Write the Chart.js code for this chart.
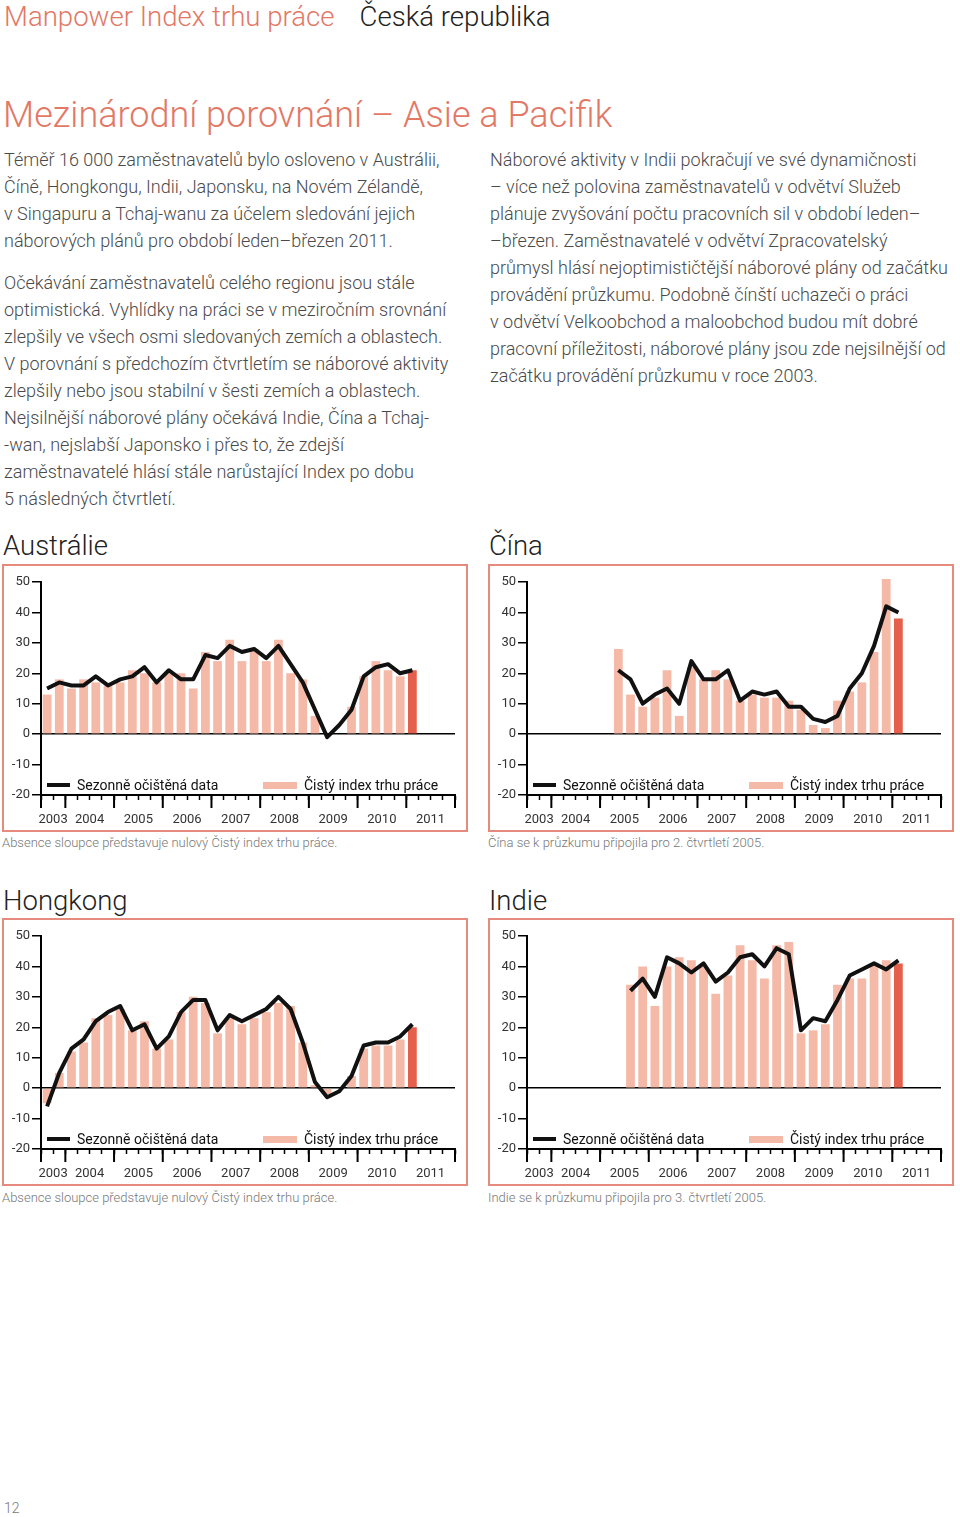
<!DOCTYPE html>
<html lang="cs">
<head>
<meta charset="utf-8">
<title>Mezinárodní porovnání – Asie a Pacifik</title>
<script src="https://cdn.jsdelivr.net/npm/chart.js@4.4.1/dist/chart.umd.min.js"></script>
<style>
  body {
    margin: 0;
    width: 960px;
    height: 1517px;
    position: relative;
    background: #fff;
    font-family: Roboto, 'Liberation Sans', sans-serif;
    font-weight: 300;
    color: #4a4a4a;
  }
  .abs { position: absolute; white-space: nowrap; }
  .head { left: 4px; top: 0; font-size: 27.6px; line-height: 33px; color: #e27866; }
  .head span { color: #222; margin-left: 25px; }
  .title { left: 3px; top: 93px; font-size: 36px; line-height: 44px; color: #e27866; }
  .para { font-size: 18px; line-height: 27px; }
  .ctitle { font-size: 27.5px; line-height: 34px; color: #222; }
  .box {
    position: absolute;
    width: 462px;
    height: 264px;
    border: 2px solid #e58a7d;
  }
  .box canvas { position: absolute; left: 0; top: 0; }
  .note { font-size: 13px; line-height: 16px; color: #777; }
  .leg { position: absolute; top: 209px; font-size: 14px; line-height: 20px; color: #111; font-weight: 400; white-space: nowrap; }
  .leg i { position: absolute; display: block; }
  .leg .ln { left: 43px; top: 8px; width: 23px; height: 4px; background: #111; }
  .leg .sw { left: 259px; top: 7px; width: 34px; height: 7px; background: #f5b9a8; }
  .leg .t1 { position: absolute; left: 73px; }
  .leg .t2 { position: absolute; left: 300px; }
</style>
</head>
<body>

<div class="abs head">Manpower Index trhu práce<span>Česká republika</span></div>
<div class="abs title">Mezinárodní porovnání – Asie a Pacifik</div>

<div class="abs para" style="left:4px;top:146px">
Téměř 16 000 zaměstnavatelů bylo osloveno v Austrálii,<br>
Číně, Hongkongu, Indii, Japonsku, na Novém Zélandě,<br>
v Singapuru a Tchaj-wanu za účelem sledování jejich<br>
náborových plánů pro období leden–březen 2011.
</div>
<div class="abs para" style="left:4px;top:269px">
Očekávání zaměstnavatelů celého regionu jsou stále<br>
optimistická. Vyhlídky na práci se v meziročním srovnání<br>
zlepšily ve všech osmi sledovaných zemích a oblastech.<br>
V porovnání s předchozím čtvrtletím se náborové aktivity<br>
zlepšily nebo jsou stabilní v šesti zemích a oblastech.<br>
Nejsilnější náborové plány očekává Indie, Čína a Tchaj-<br>
-wan, nejslabší Japonsko i přes to, že zdejší<br>
zaměstnavatelé hlásí stále narůstající Index po dobu<br>
5 následných čtvrtletí.
</div>
<div class="abs para" style="left:490px;top:146px">
Náborové aktivity v Indii pokračují ve své dynamičnosti<br>
– více než polovina zaměstnavatelů v odvětví Služeb<br>
plánuje zvyšování počtu pracovních sil v období leden–<br>
–březen. Zaměstnavatelé v odvětví Zpracovatelský<br>
průmysl hlásí nejoptimističtější náborové plány od začátku<br>
provádění průzkumu. Podobně čínští uchazeči o práci<br>
v odvětví Velkoobchod a maloobchod budou mít dobré<br>
pracovní příležitosti, náborové plány jsou zde nejsilnější od<br>
začátku provádění průzkumu v roce 2003.
</div>

<div class="abs ctitle" style="left:3px;top:529px">Austrálie</div>
<div class="box" style="left:2px;top:564px"><canvas id="aus" width="462" height="264"></canvas></div>
<div class="abs note" style="left:2px;top:835px">Absence sloupce představuje nulový Čistý index trhu práce.</div>

<div class="abs ctitle" style="left:489px;top:529px">Čína</div>
<div class="box" style="left:488px;top:564px"><canvas id="chn" width="462" height="264"></canvas></div>
<div class="abs note" style="left:488px;top:835px">Čína se k průzkumu připojila pro 2. čtvrtletí 2005.</div>

<div class="abs ctitle" style="left:3px;top:884px">Hongkong</div>
<div class="box" style="left:2px;top:918px"><canvas id="hk" width="462" height="264"></canvas></div>
<div class="abs note" style="left:2px;top:1190px">Absence sloupce představuje nulový Čistý index trhu práce.</div>

<div class="abs ctitle" style="left:489px;top:884px">Indie</div>
<div class="box" style="left:488px;top:918px"><canvas id="ind" width="462" height="264"></canvas></div>
<div class="abs note" style="left:488px;top:1190px">Indie se k průzkumu připojila pro 3. čtvrtletí 2005.</div>

<div class="abs note" style="left:4px;top:1500px;font-size:14px">12</div>

<script>
// survey runs 2003 Q3 .. 2011 Q4 on the axis, data up to 2011 Q1
const years = ['2003', '2004', '2005', '2006', '2007', '2008', '2009', '2010', '2011'];
const quarterNames = ['Q1', 'Q2', 'Q3', 'Q4'];

const lineLabel = 'Sezonně očištěná data';
const barLabel = 'Čistý index trhu práce';

const ausBars = [13, 18, 15, 18, 17, 16, 17, 21, 20, 17, 20, 20, 15, 27, 24, 31, 24, 28, 24, 31, 20, 18, 6, 0, 0, 9, 19, 24, 21, 19, 21, null, null, null];
const ausLine = [15, 17, 16, 16, 19, 16, 18, 19, 22, 17, 21, 18, 18, 26, 25, 29, 27, 28, 25, 29, 23, 17, 8, -1, 3, 8, 19, 22, 23, 20, 21, null, null, null];

const chnBars = [null, null, null, null, null, null, null, 28, 13, 9, 12, 21, 6, 22, 18, 21, 18, 11, 13, 12, 12, 11, 8, 3, 2, 11, 14, 17, 27, 51, 38, null, null, null];
const chnLine = [null, null, null, null, null, null, null, 21, 18, 10, 13, 15, 10, 24, 18, 18, 21, 11, 14, 13, 14, 9, 9, 5, 4, 6, 15, 20, 29, 42, 40, null, null, null];

const hkBars = [-5, 5, 12, 15, 23, 24, 26, 19, 22, 13, 16, 25, 30, 28, 18, 23, 21, 23, 25, 28, 27, 15, 1, -2, 0, 4, 13, 14, 14, 16, 20, null, null, null];
const hkLine = [-6, 5, 13, 16, 22, 25, 27, 19, 21, 13, 17, 25, 29, 29, 19, 24, 22, 24, 26, 30, 26, 15, 2, -3, -1, 4, 14, 15, 15, 17, 21, null, null, null];

const indBars = [null, null, null, null, null, null, null, null, 34, 40, 27, 40, 43, 42, 40, 31, 37, 47, 42, 36, 47, 48, 18, 19, 21, 34, 36, 36, 41, 42, 41, null, null, null];
const indLine = [null, null, null, null, null, null, null, null, 32, 36, 30, 43, 41, 38, 41, 35, 38, 43, 44, 40, 46, 44, 19, 23, 22, 29, 37, 39, 41, 39, 42, null, null, null];

// quarter categories, first one is 2003 Q3
const quarters = [];
years.forEach((y) => quarterNames.forEach((q) => quarters.push(y + ' ' + q)));
quarters.splice(0, 2);
const latest = quarters.indexOf('2011 Q1');

// year label sits at the edge in the middle of its quarters
const yearLabelAt = {};
years.forEach((y) => {
  const idx = quarters.map((q, i) => (q.startsWith(y) ? i : -1)).filter((i) => i >= 0);
  yearLabelAt[idx[Math.ceil(idx.length / 2) - 1]] = y;
});
// edges where a new year begins (plus both ends)
const yearEdges = [0];
quarters.forEach((q, i) => { if (i > 0 && q.endsWith('Q1')) yearEdges.push(i); });
yearEdges.push(quarters.length);

Chart.defaults.font.family = 'Roboto, "Liberation Sans", sans-serif';
Chart.defaults.font.size = 13;
Chart.defaults.color = '#333';

const yearTicks = {
  id: 'yearTicks',
  afterDraw(chart) {
    const x = chart.scales.x;
    const ctx = chart.ctx;
    const slot = x.getPixelForValue(1) - x.getPixelForValue(0);
    const start = x.getPixelForValue(0) - slot / 2;
    ctx.save();
    ctx.strokeStyle = '#000';
    ctx.lineWidth = 2;
    yearEdges.forEach((e) => {
      const px = start + e * slot;
      ctx.beginPath();
      ctx.moveTo(px, x.top - 1);
      ctx.lineTo(px, x.top + 13);
      ctx.stroke();
    });
    ctx.restore();
  },
};

function makeChart(id, bars, line) {
  const canvas = document.getElementById(id);
  const box = canvas.parentElement;
  box.insertAdjacentHTML('beforeend',
    '<div class="leg"><i class="ln"></i><span class="t1">' + lineLabel +
    '</span><i class="sw"></i><span class="t2">' + barLabel + '</span></div>');

  return new Chart(canvas.getContext('2d'), {
    type: 'bar',
    data: {
      labels: quarters,
      datasets: [
        {
          type: 'line',
          label: lineLabel,
          data: line,
          borderColor: '#111',
          borderWidth: 4,
          pointRadius: 0,
          tension: 0,
          borderJoinStyle: 'round',
          order: 0,
        },
        {
          label: barLabel,
          data: bars,
          backgroundColor: quarters.map((q, i) => (i === latest ? '#e5604c' : '#f5b9a8')),
          barPercentage: 0.72,
          categoryPercentage: 1,
          clip: false,
          order: 1,
        },
      ],
    },
    options: {
      responsive: false,
      animation: false,
      layout: { padding: { top: 16, right: 11, left: 0, bottom: 0 } },
      plugins: {
        legend: { display: false },
        tooltip: { enabled: false },
      },
      scales: {
        x: {
          offset: true,
          grid: {
            offset: true,
            drawOnChartArea: false,
            tickLength: 5,
            tickColor: '#000',
            tickWidth: 1.5,
          },
          border: { color: '#000', width: 2 },
          ticks: {
            autoSkip: false,
            maxRotation: 0,
            minRotation: 0,
            labelOffset: 6,
            padding: 12,
            color: '#333',
            callback: (v, i) => yearLabelAt[i] || '',
          },
          afterFit: (s) => { s.height = 35; },
        },
        y: {
          min: -20,
          max: 50,
          ticks: { stepSize: 10, padding: 2, color: '#333' },
          grid: {
            color: (c) => (c.tick && c.tick.value === 0 ? '#000' : 'rgba(0,0,0,0)'),
            lineWidth: 1.5,
            tickLength: 9,
            tickColor: '#000',
            tickWidth: 1.5,
          },
          border: { color: '#000', width: 2 },
          afterFit: (s) => { s.width = 37; },
        },
      },
    },
    plugins: [yearTicks],
  });
}

makeChart('aus', ausBars, ausLine);
makeChart('chn', chnBars, chnLine);
makeChart('hk', hkBars, hkLine);
makeChart('ind', indBars, indLine);
</script>
</body>
</html>
